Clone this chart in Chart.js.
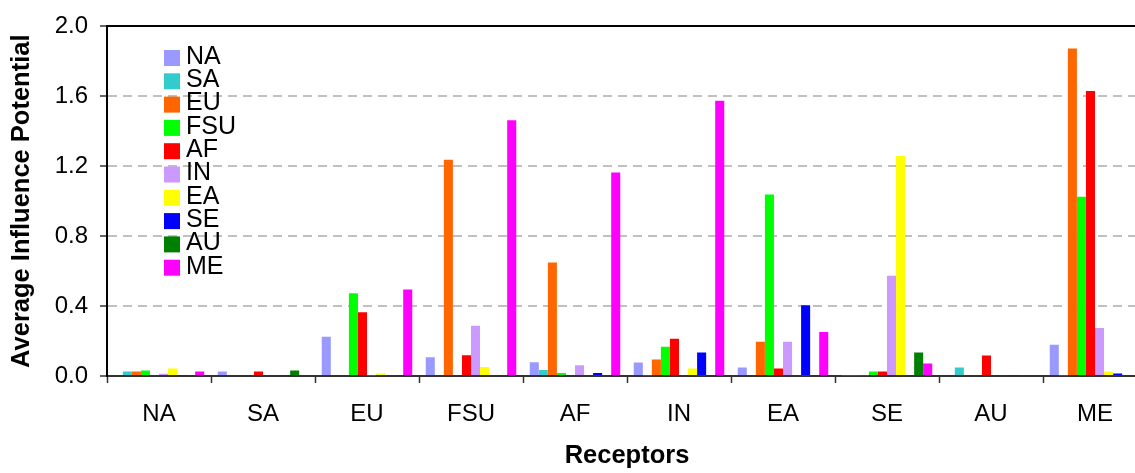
<!DOCTYPE html>
<html>
<head>
<meta charset="utf-8">
<script src="https://cdn.jsdelivr.net/npm/chart.js@4"></script>
<style>
  html, body { margin: 0; padding: 0; background: #fff; overflow: hidden; }
  #wrap { width: 1160px; height: 473px; }
</style>
</head>
<body>
<div id="wrap"><canvas id="myChart"></canvas></div>
<script>
// receptor regions on the x axis
const receptors = ['NA', 'SA', 'EU', 'FSU', 'AF', 'IN', 'EA', 'SE', 'AU', 'ME'];

// source regions, one array per source (null = own region, not drawn)
const srcNA  = [null,  0.026, 0.224, 0.107, 0.079, 0.077, 0.049, 0.004, 0,     0.179];
const srcSA  = [0.026, null,  0,     0,     0.034, 0.004, 0,     0.004, 0.049, 0.004];
const srcEU  = [0.026, 0,     null,  1.237, 0.650, 0.094, 0.196, 0.004, 0,     1.874];
const srcFSU = [0.032, 0,     0.473, null,  0.017, 0.168, 1.038, 0.026, 0,     1.026];
const srcAF  = [0.004, 0.026, 0.365, 0.119, null,  0.213, 0.043, 0.026, 0.117, 1.631];
const srcIN  = [0.013, 0,     0.004, 0.288, 0.062, null,  0.196, 0.574, 0,     0.275];
const srcEA  = [0.043, 0,     0.015, 0.051, 0.006, 0.043, null,  1.258, 0,     0.026];
const srcSE  = [0.004, 0.004, 0,     0.006, 0.017, 0.134, 0.405, null,  0.004, 0.015];
const srcAU  = [0,     0.032, 0,     0,     0.006, 0,     0,     0.134, null,  0];
const srcME  = [0.026, 0,     0.495, 1.463, 1.164, 1.574, 0.252, 0.072, 0,     null];

const yTicks = [0, 0.4, 0.8, 1.2, 1.6, 2.0];

Chart.defaults.font.family = '"Liberation Sans", Arial, sans-serif';
Chart.defaults.color = '#000';

function ds(label, data, color) {
	return {
		label: label,
		data: data,
		backgroundColor: color,
		borderWidth: 0,
		categoryPercentage: 0.87,
		barPercentage: 1.0
	};
}

//Legend drawn inside the plot, one column

const sideLegend = {
	id: 'sideLegend',
	afterDraw(chart) {
		const c = chart.ctx;
		c.save();
		c.font = '25px "Liberation Sans", Arial, sans-serif';
		c.textBaseline = 'middle';
		chart.data.datasets.forEach((d, i) => {
			let y = 50 + i * 23.3;
			c.fillStyle = d.backgroundColor;
			c.fillRect(164, y, 16, 16);
			c.fillStyle = '#000';
			c.fillText(d.label, 186, y + 7);
		});
		c.restore();
	}
};

const ctx = document.getElementById('myChart').getContext('2d');
const myChart = new Chart(ctx, {
	type: 'bar',
	data: {
		labels: receptors,
		datasets: [
			ds('NA', srcNA, '#9999FF'),
			ds('SA', srcSA, '#33CCCC'),
			ds('EU', srcEU, '#FF6600'),
			ds('FSU', srcFSU, '#00FF00'),
			ds('AF', srcAF, '#FF0000'),
			ds('IN', srcIN, '#CC99FF'),
			ds('EA', srcEA, '#FFFF00'),
			ds('SE', srcSE, '#0000FF'),
			ds('AU', srcAU, '#008000'),
			ds('ME', srcME, '#FF00FF')
		]
	},
	plugins: [sideLegend],
	options: {
		responsive: true,
		maintainAspectRatio: false,
		animation: false,
		layout: { padding: { top: 21, right: 13, left: 0, bottom: 0 } },
		plugins: {
			legend: { display: false },
			tooltip: { enabled: false }
		},
		scales: {
			x: {
				grid: {
					drawOnChartArea: false,
					tickLength: 7,
					tickColor: '#333',
					tickWidth: 1.5
				},
				border: { color: '#333', width: 2 },
				ticks: { font: { size: 24 }, padding: 17 },
				title: {
					display: true,
					text: 'Receptors',
					font: { size: 25.5, weight: 'bold' },
					padding: { top: 0, bottom: 2 }
				},
				afterFit(scale) { scale.height = 97; }
			},
			x2: {
				position: 'top',
				type: 'category',
				labels: receptors,
				grid: { display: false, drawTicks: false },
				ticks: { display: false },
				border: { display: true, color: '#000', width: 2 },
				afterFit(scale) { scale.height = 0; }
			},
			y: {
				min: 0,
				max: 2.0,
				afterBuildTicks(scale) {
					scale.ticks = yTicks.map(v => ({ value: v }));
				},
				ticks: {
					font: { size: 24 },
					padding: 12,
					callback: v => v.toFixed(1)
				},
				grid: {
					color: c => (c.tick && (c.tick.value === 0 || c.tick.value === 2)) ? 'rgba(0,0,0,0)' : '#c0c0c0',
					lineWidth: 2,
					tickLength: 7,
					tickColor: '#333',
					tickWidth: 1.5,
					tickBorderDash: []
				},
				border: { color: '#000', width: 2, dash: [9, 6] },
				title: {
					display: true,
					text: 'Average Influence Potential',
					font: { size: 25.5, weight: 'bold' },
					padding: { top: 7, bottom: 0 }
				},
				afterFit(scale) { scale.width = 107; }
			}
		}
	}
});
</script>
</body>
</html>
